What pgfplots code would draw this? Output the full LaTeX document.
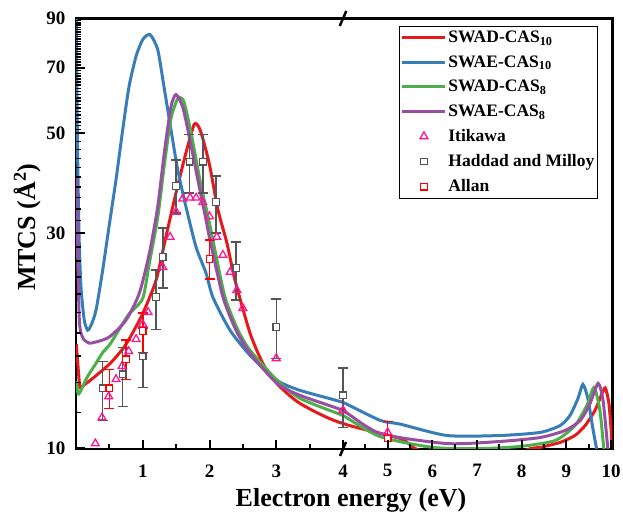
\documentclass[border=0pt]{standalone}
\usepackage{fontspec}
\setmainfont{Liberation Serif}
\usepackage{pgfplots}
\pgfplotsset{compat=1.18}
\usepackage{pgfplotstable}

\definecolor{cred}{RGB}{228,26,28}
\definecolor{cblue}{RGB}{55,126,184}
\definecolor{cgreen}{RGB}{77,175,74}
\definecolor{cpurple}{RGB}{152,78,163}
\definecolor{cpink}{RGB}{255,20,147}
\definecolor{cgray}{RGB}{85,85,85}
\definecolor{cared}{RGB}{255,0,0}

\pgfplotstableread{
x y
0.005 17.0
0.03 15.2
0.06 13.64
0.12 13.8
0.255 14.3
0.509 15.4
0.70 16.6
0.80 17.5
1.0 19.9
1.2 23.6
1.348 29.5
1.498 36.9
1.648 45.3
1.772 52.4
1.85 51.3
1.92 47.5
2.007 42.1
2.127 33.8
2.262 28.5
2.382 23.6
2.607 18.0
2.801 15.4
3.011 13.9
3.356 12.56
4.0 11.34
5.28 10.5
5.66 9.92
6.5 9.5
7.5 9.5
8.2 9.97
8.41 10.03
8.86 10.29
9.19 10.66
9.42 11.22
9.64 12.12
9.78 13.09
9.87 13.6
9.95 12.6
10.0 11.0
10.05 9.0
}\redc

\pgfplotstableread{
x y
0.004 95
0.02 50
0.045 30
0.075 22.75
0.124 19.23
0.175 18.27
0.23 18.8
0.30 20.25
0.40 24.85
0.494 30.98
0.599 39.43
0.70 50.95
0.794 63.5
0.899 74.1
0.999 80.8
1.109 82.9
1.224 76.8
1.318 63.5
1.423 50.95
1.524 41.5
1.648 34.33
1.798 27.97
1.948 24.47
2.052 21.6
2.307 18.27
2.607 16.07
3.011 14.14
3.356 13.43
4.0 12.63
4.83 11.52
5.28 11.3
6.33 10.66
7.51 10.66
8.41 10.83
8.86 11.22
9.08 11.81
9.26 12.89
9.37 13.85
9.48 12.89
9.60 10.94
9.69 9.8
}\bluec

\pgfplotstableread{
x y
0.004 14.1
0.03 13.23
0.06 13.3
0.165 14.35
0.285 15.3
0.40 16.3
0.509 17.0
0.70 18.9
0.80 19.9
1.0 21.5
1.1 25.8
1.224 32.5
1.323 42.5
1.423 54.0
1.52 59.6
1.57 60.0
1.62 58.6
1.72 50.5
1.87 38.5
1.99 32.1
2.06 28.5
2.232 21.64
2.427 18.27
2.607 16.49
3.011 14.14
3.356 12.89
4.0 11.81
4.83 10.6
6.01 10.03
7.07 9.97
7.96 10.08
8.75 10.39
9.19 11.22
9.46 12.44
9.62 13.64
9.75 12.12
9.84 9.92
9.89 9.0
}\greenc

\pgfplotstableread{
x y
0.004 40
0.03 24.8
0.05 19.23
0.075 18.0
0.12 17.4
0.2 17.1
0.3 17.2
0.5 17.65
0.749 19.23
0.949 22.08
1.1 27.12
1.224 34.33
1.323 45.3
1.423 57.3
1.498 60.97
1.598 57.3
1.697 49.15
1.847 38.04
1.948 32.12
2.007 29.0
2.202 21.64
2.397 18.27
2.607 16.23
3.011 13.92
3.356 13.09
4.0 12.12
4.83 10.77
6.33 10.23
7.51 10.34
8.41 10.55
8.97 10.94
9.31 11.51
9.53 12.56
9.71 13.92
9.82 12.76
9.93 9.92
9.97 9.0
}\purplec

\pgfplotstableread{
x y
0.29 10.23
0.39 11.69
0.49 13.02
0.6 14.21
0.69 15.19
0.79 16.40
0.9 17.45
1.0 18.84
1.08 20.03
1.3 25.23
1.41 29.43
1.5 33.46
1.6 35.78
1.71 35.96
1.8 35.96
1.9 35.14
2.0 32.70
2.11 29.43
2.2 26.84
2.31 24.60
2.41 22.43
2.5 20.45
3.0 15.82
4.0 12.12
5.0 10.83
}\itikawa

\pgfplotstableread{
x y ep em
0.4 13.57 2.01 2.06
0.7 14.58 2.16 2.21
1.0 15.99 2.47 2.35
1.2 21.64 3.21 3.28
1.3 26.57 4.26 3.91
1.5 38.23 5.46 4.94
1.7 43.24 6.42 6.37
1.9 43.24 6.42 6.37
2.1 35.23 5.01 5.19
2.4 25.11 3.58 3.80
3.0 18.56 2.86 2.74
4.0 13.09 1.95 1.98
}\haddad

\pgfplotstableread{
x y ep em
0.5 13.57 1.39 1.33
0.75 15.74 1.62 1.53
1.0 18.18 1.76 1.86
2.0 26.29 2.70 2.56
5.0 10.50 0.96 0.96
}\allan

\begin{document}
\begin{tikzpicture}
\path[use as bounding box] (-76pt,-69pt) rectangle (547pt,449pt);
% ---------- left segment 0..4 ----------
\begin{axis}[
  at={(0,0)}, anchor=south west,
  scale only axis, width=267pt, height=430.5pt,
  ymode=log, ymin=9.95, ymax=90,
  xmin=0, xmax=4,
  axis y line*=left,
  xtick pos=left, ytick pos=left,
  tick align=inside,
  major tick length=0pt, minor tick length=0pt,
  axis line style={-, line width=2.8pt, line cap=rect},
  ticklabel style={font=\bfseries\fontsize{19}{21}\selectfont},
  xticklabel style={yshift=-12pt},
  yticklabel style={xshift=-7pt},
  xtick={1,2,3,4}, xticklabels={1,2,3,4},
  ytick={10,30,50,70,90}, yticklabels={10,30,50,70,90},
  label style={font=\bfseries\fontsize{26}{30}\selectfont},
  xlabel={Electron energy (eV)},
  ylabel={MTCS (Å\textsuperscript{2})},
  xlabel style={at={(axis description cs:1.03,-0.12)}, anchor=center},
  ylabel style={at={(axis description cs:-0.1835,0.515)}, anchor=center},
  lineplot/.style={line width=3pt, smooth, tension=0.4},
  ebars/.style={error bars/.cd, y dir=both, y explicit,
    error bar style={line width=1.5pt},
    error mark options={rotate=90, mark size=5pt, line width=1.5pt}},
]
\addplot[lineplot, cred] table[x=x,y=y] {\redc};
\addplot[lineplot, cblue] table[x=x,y=y] {\bluec};
\addplot[lineplot, cgreen] table[x=x,y=y] {\greenc};
\addplot[lineplot, cpurple] table[x=x,y=y] {\purplec};
\addplot[only marks, cpink, mark=triangle, mark size=4.5pt, mark options={line width=1.3pt, solid}] table[x=x,y=y] {\itikawa};
\addplot[only marks, cgray, mark=square*, mark size=3.3pt, mark options={line width=1.2pt, fill=white, solid}, ebars] table[x=x,y=y,y error plus=ep,y error minus=em] {\haddad};
\addplot[only marks, cared, mark=square*, mark size=3.3pt, mark options={line width=1.2pt, fill=white, solid}, ebars] table[x=x,y=y,y error plus=ep,y error minus=em] {\allan};
\end{axis}
% ---------- right segment 4..10 ----------
\begin{axis}[
  at={(267pt,0)}, anchor=south west,
  scale only axis, width=269.4pt, height=430.5pt,
  ymode=log, ymin=9.95, ymax=90,
  xmin=4, xmax=10.03,
  axis y line*=right, ytick=\empty,
  xtick pos=left,
  tick align=inside,
  major tick length=0pt, minor tick length=0pt,
  axis line style={-, line width=2.8pt, line cap=rect},
  ticklabel style={font=\bfseries\fontsize{19}{21}\selectfont},
  xticklabel style={yshift=-12pt},
  xtick={5,6,7,8,9,10}, xticklabels={5,6,7,8,9,10},
  legend style={at={(axis description cs:0.208,0.983)}, anchor=north west,
    draw=black, line width=0.8pt, font=\bfseries\fontsize{17.5}{19}\selectfont,
    inner xsep=1pt, inner ysep=3pt, row sep=7.5pt,
    nodes={inner sep=2pt, text depth=0.15em}},
  legend cell align=left,
  lineplot/.style={line width=3pt, smooth, tension=0.4,
    legend image code/.code={\draw[##1] (0pt,0pt) -- (43pt,0pt);}},
  markplot/.style={only marks,
    legend image code/.code={\path (0pt,0pt) (43pt,0pt); \draw[##1] plot coordinates {(22pt,0pt)};}},
  ebars/.style={error bars/.cd, y dir=both, y explicit,
    error bar style={line width=1.5pt},
    error mark options={rotate=90, mark size=5pt, line width=1.5pt}},
]
\addplot[lineplot, cred] table[x=x,y=y] {\redc};
\addlegendentry{SWAD-CAS\textsubscript{10}}
\addplot[lineplot, cblue] table[x=x,y=y] {\bluec};
\addlegendentry{SWAE-CAS\textsubscript{10}}
\addplot[lineplot, cgreen] table[x=x,y=y] {\greenc};
\addlegendentry{SWAD-CAS\textsubscript{8}}
\addplot[lineplot, cpurple] table[x=x,y=y] {\purplec};
\addlegendentry{SWAE-CAS\textsubscript{8}}
\addplot[markplot, cpink, mark=triangle, mark size=4.5pt, mark options={line width=1.3pt, solid}] table[x=x,y=y] {\itikawa};
\addlegendentry{Itikawa}
\addplot[markplot, cgray, mark=square*, mark size=3.3pt, mark options={line width=1.2pt, fill=white, solid}, ebars] table[x=x,y=y,y error plus=ep,y error minus=em] {\haddad};
\addlegendentry{Haddad and Milloy}
\addplot[markplot, cared, mark=square*, mark size=3.3pt, mark options={line width=1.2pt, fill=white, solid}, ebars] table[x=x,y=y,y error plus=ep,y error minus=em] {\allan};
\addlegendentry{Allan}
\end{axis}
% ---------- tick marks (inside, on bottom and left frame) ----------
\foreach \p in {66.75,133.5,200.25,267,311.68,356.35,401.03,445.71,490.39,535.06}
  \draw[black, line width=2pt] (\p pt,0pt) -- (\p pt,9pt);
\foreach \p in {33.38,100.13,166.88,233.63,289.34,334.02,378.69,423.37,468.05,512.72}
  \draw[black, line width=1.8pt] (\p pt,0pt) -- (\p pt,4.5pt);
\foreach \v in {10,30,50,70,90}
  \draw[black, line width=2pt] (0pt,{450.12pt*(log10(\v)-0.997823)}) -- ++(9pt,0pt);
\foreach \v in {12,14,16,18,20,22,24,26,28,32,34,36,38,40,42,44,46,48,51,52,53,54,55,56,57,58,59,60,61,62,63,64,65,66,67,68,69,71,72,73,74,75,76,77,78,79,80,81,82,83,84,85,86,87,88,89}
  \draw[black, line width=1.5pt] (0pt,{450.12pt*(log10(\v)-0.997823)}) -- ++(4.5pt,0pt);
% ---------- axis break marks ----------
\draw[line width=2.5pt] (263.7pt,423pt) -- (270.3pt,438pt);
\draw[line width=2.5pt] (264pt,-7pt) -- (270pt,7pt);
\end{tikzpicture}
\end{document}
